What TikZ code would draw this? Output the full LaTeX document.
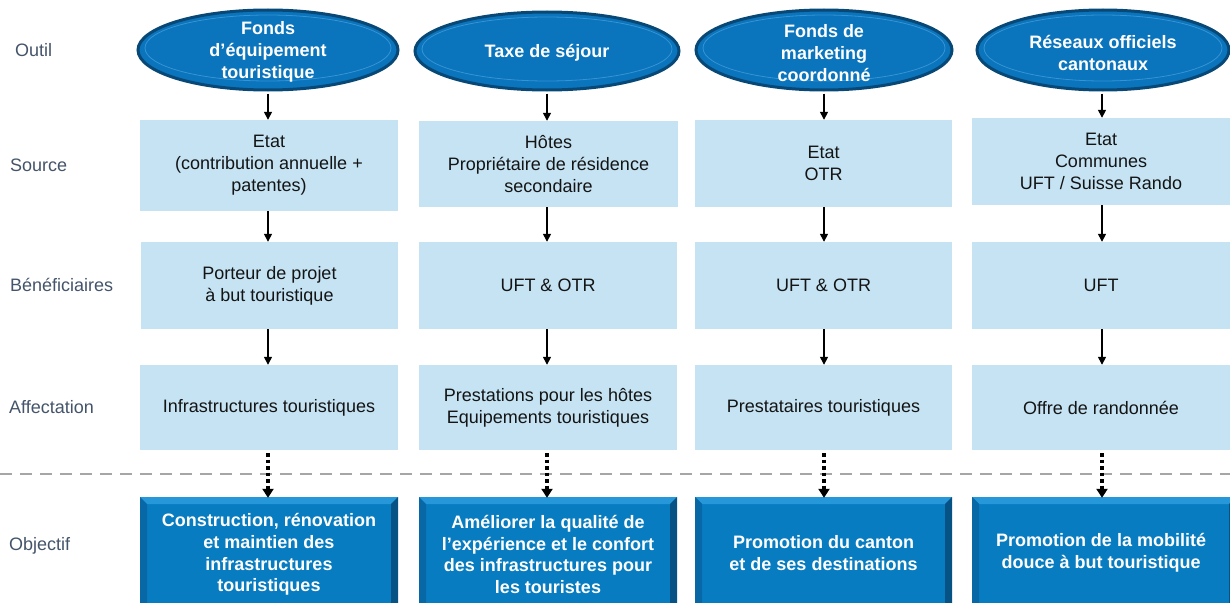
\documentclass[tikz,border=0pt]{standalone}
\usepackage{fontspec}
\setmainfont{Liberation Sans}
\usetikzlibrary{shapes.geometric,arrows.meta}
\definecolor{lightbox}{RGB}{197,227,243}
\definecolor{ellfill}{RGB}{10,116,188}
\definecolor{elldark}{RGB}{8,72,118}
\definecolor{ellrim}{RGB}{55,148,212}
\definecolor{objfill}{RGB}{8,124,192}
\definecolor{objdark}{RGB}{6,82,132}
\definecolor{objleft}{RGB}{7,104,165}
\definecolor{objlight}{RGB}{38,152,218}
\definecolor{labelc}{RGB}{68,84,106}
\definecolor{dashc}{RGB}{166,166,166}
\definecolor{txt}{RGB}{20,20,20}
\newcommand{\objbox}[5]{% name, x1, y1, x2, y2
  \fill[objfill] (#2,#3) rectangle (#4,#5);
  \fill[objlight] (#2,#3) -- (#4,#3) -- ({#4-7},{#3+7}) -- ({#2+7},{#3+7}) -- cycle;
  \fill[objdark] (#4,#3) -- (#4,#5) -- ({#4-7},#5) -- ({#4-7},{#3+7}) -- cycle;
  \fill[objleft] (#2,#3) -- ({#2+7},{#3+7}) -- ({#2+7},#5) -- (#2,#5) -- cycle;
  \node[inner sep=0, minimum width={#4-#2}, minimum height={#5-#3}] (#1) at ({(#2+#4)/2},{(#3+#5)/2}) {};
}
\begin{document}
\begin{tikzpicture}[x=1pt,y=-1pt,
  lbox/.style={fill=lightbox, inner sep=0, align=center, text=txt,
    font=\fontsize{18}{22}\selectfont},
  ellshape/.style={ellipse, fill=ellfill, draw=elldark, line width=3pt, inner sep=0},
  elltext/.style={text=white, align=center, font=\bfseries\fontsize{18}{22}\selectfont},
  objtext/.style={text=white, align=center, font=\bfseries\fontsize{18}{21.7}\selectfont},
  rowlabel/.style={anchor=west, text=labelc, inner sep=0, font=\fontsize{18}{22}\selectfont},
  arr/.style={line width=1.4pt, -{Triangle[length=8pt,width=8pt]}},
  dotarr/.style={line width=3.5pt, dash pattern=on 3.5pt off 3pt, -{Triangle[length=9pt,width=11pt]}, shorten >=-1pt}
]
\useasboundingbox (0,0) rectangle (1230,602);
\clip (0,0) rectangle (1230,602);
\fill[white] (0,0) rectangle (1230,602);

% row labels
\node[rowlabel] (lOutil) at (15,50) {Outil};
\node[rowlabel] (lSource) at (10,165) {Source};
\node[rowlabel] (lBen) at (10,285) {Bénéficiaires};
\node[rowlabel] (lAff) at (9,407) {Affectation};
\node[rowlabel] (lObj) at (9,546) {Objectif};

% dashed separator
\draw[dashc, line width=2.5pt, dash pattern=on 12pt off 8pt] (0,474) -- (1230,474);

% ellipses
\foreach \n/\x/\y/\w/\h in {e1/268/50/260/80, e2/547/51/264/78, e3/824/50/256/80, e4/1103/50/252/80}{
  \node[ellshape, minimum width=\w pt, minimum height=\h pt] (\n) at (\x,\y) {};
  \draw[ellrim, line width=0.8pt] (\x,{\y-2}) ellipse ({\w/2-7} and {\h/2-7});
}
\node[elltext] (t1) at (268,52) {Fonds\\d’équipement\\touristique};
\node[elltext] (t2) at (547,53) {Taxe de séjour};
\node[elltext] (t3) at (824,53) {Fonds de\\marketing\\coordonné};
\node[elltext] (t4) at (1103,53) {Réseaux officiels\\cantonaux};

% source boxes
\node[lbox, minimum width=258pt, minimum height=91pt] (s1) at (269,165.5) {Etat\\(contribution annuelle +\\patentes)};
\node[lbox, minimum width=259pt, minimum height=86pt] (s2) at (548.5,164) {Hôtes\\Propriétaire de résidence\\secondaire};
\node[lbox, minimum width=257pt, minimum height=87pt] (s3) at (823.5,163.5) {Etat\\OTR};
\node[lbox, minimum width=258pt, minimum height=87pt] (s4) at (1101,161.5) {Etat\\Communes\\UFT / Suisse Rando};

% beneficiary boxes
\node[lbox, minimum width=257pt, minimum height=87pt] (b1) at (269.5,285.5) {Porteur de projet\\à but touristique};
\node[lbox, minimum width=258pt, minimum height=87pt] (b2) at (548,285.5) {UFT \& OTR};
\node[lbox, minimum width=257pt, minimum height=87pt] (b3) at (823.5,285.5) {UFT \& OTR};
\node[lbox, minimum width=258pt, minimum height=87pt] (b4) at (1101,285.5) {UFT};

% affectation boxes
\node[lbox, minimum width=258pt, minimum height=85pt] (a1) at (269,407.5) {Infrastructures touristiques};
\node[lbox, minimum width=258pt, minimum height=85pt] (a2) at (548,407.5) {Prestations pour les hôtes\\Equipements touristiques};
\node[lbox, minimum width=257pt, minimum height=85pt] (a3) at (823.5,407.5) {Prestataires touristiques};
\node[lbox, minimum width=258pt, minimum height=85pt] (a4) at (1101,407.5) {Offre de randonnée};

% objective boxes
\objbox{o1}{140}{497}{398}{608}
\objbox{o2}{419}{497}{677}{608}
\objbox{o3}{695}{497}{952}{608}
\objbox{o4}{972}{497}{1236}{608}
\node[objtext] (ot1) at (269,554.5) {Construction, rénovation\\et maintien des\\infrastructures\\touristiques};
\node[objtext] (ot2) at (548,554.5) {Améliorer la qualité de\\l’expérience et le confort\\des infrastructures pour\\les touristes};
\node[objtext] (ot3) at (823.5,553) {Promotion du canton\\et de ses destinations};
\node[objtext] (ot4) at (1101,553) {Promotion de la mobilité\\douce à but touristique};

% arrows
\foreach \c/\x in {1/268, 2/547, 3/824, 4/1102}{
  \draw[arr] (e\c.south -| \x,0) ++(0,2) -- (s\c.north -| \x,0);
  \draw[arr] (s\c.south -| \x,0) -- (b\c.north -| \x,0);
  \draw[arr] (b\c.south -| \x,0) -- (a\c.north -| \x,0);
  \draw[dotarr] (a\c.south -| \x,0) ++(0,3) -- (o\c.north -| \x,0);
}
\end{tikzpicture}
\end{document}
